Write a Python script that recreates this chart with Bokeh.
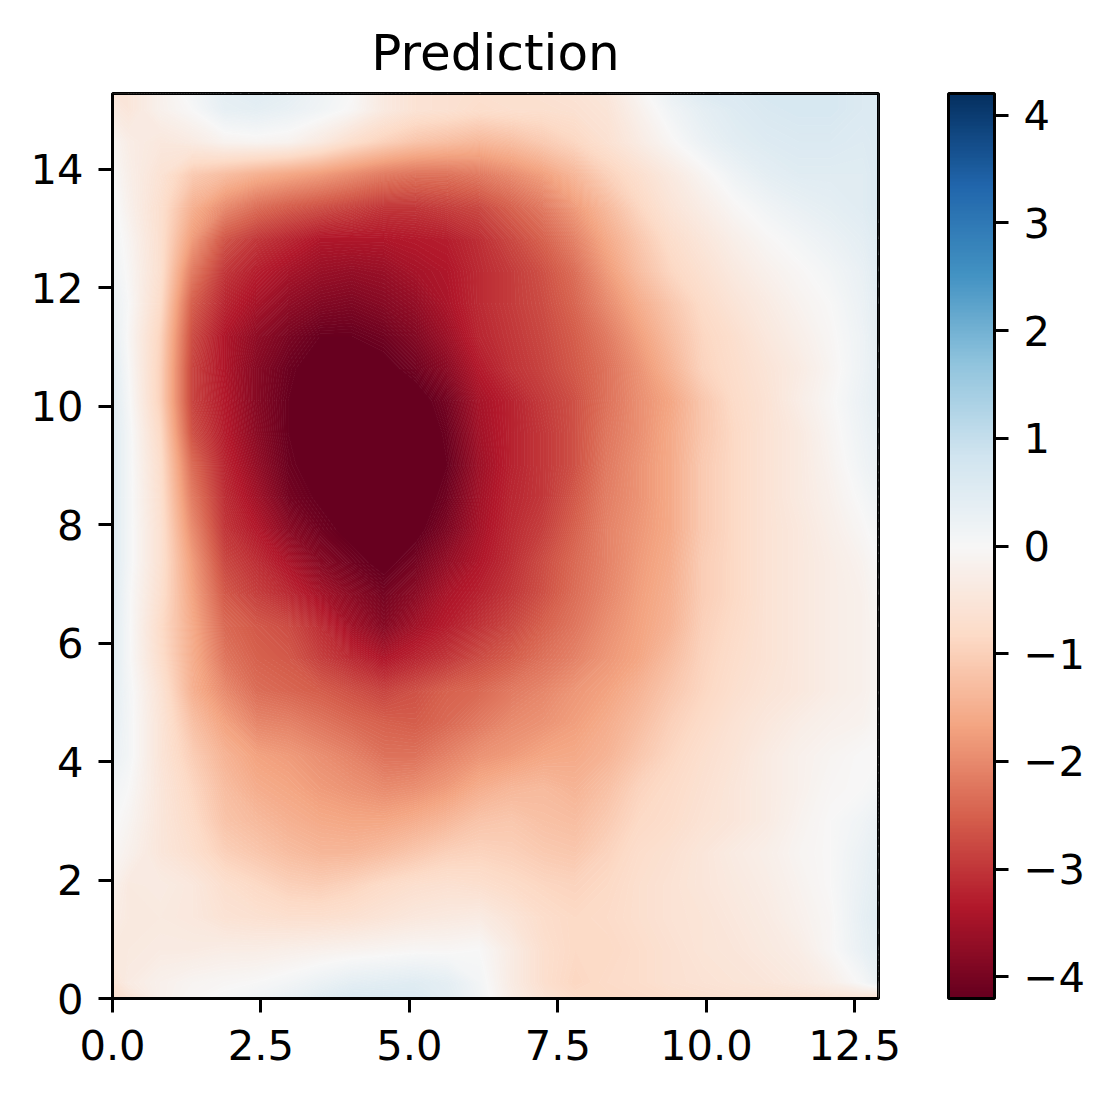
import numpy as np
from bokeh.plotting import figure
from bokeh.models import LinearColorMapper, ColorBar, FixedTicker, NumeralTickFormatter, Range1d, Span
from bokeh.palettes import interp_palette
from bokeh.embed import file_html
from bokeh.resources import INLINE

X_MAX = 12.9
Y_MAX = 15.28
V_MAX = 4.2
TITLE = "Prediction"
X_TICKS = [0, 2.5, 5, 7.5, 10, 12.5]
Y_TICKS = [0, 2, 4, 6, 8, 10, 12, 14]
CB_TICKS = [-4, -3, -2, -1, 0, 1, 2, 3, 4]
RDBU = ("#67001f", "#b2182b", "#d6604d", "#f4a582", "#fddbc7", "#f7f7f7",
        "#d1e5f0", "#92c5de", "#4393c3", "#2166ac", "#053061")

# values, top row first, left to right
top_edge = [-.5,-.2,.1,.4,.5,.4,.2,0,-.4,-.6,-.65,-.7,-.7,-.65,-.6,-.5,-.1,.3,.55,.6,.7,.7,.7,.6]
rows = [
[-.5,-.2,0,.35,.4,.3,.15,-.05,-.4,-.6,-.65,-.75,-.7,-.7,-.65,-.55,-.2,.15,.4,.55,.65,.7,.7,.6],
[-.3,-.45,-.35,-.15,-.1,-.15,-.4,-.75,-1,-1.2,-1.3,-1.4,-1.3,-1.1,-.9,-.65,-.35,-.05,.25,.45,.55,.6,.6,.55],
[-.25,-.6,-1.1,-1.3,-1.5,-1.65,-1.8,-2,-2.2,-2.3,-2.3,-2.2,-2,-1.75,-1.4,-1,-.7,-.4,-.1,.2,.4,.5,.5,.5],
[-.2,-.7,-1.5,-2,-2.35,-2.55,-2.7,-2.85,-3,-3,-2.9,-2.8,-2.5,-2.2,-1.8,-1.35,-.9,-.55,-.3,-.05,.15,.3,.4,.5],
[-.1,-.7,-1.8,-2.65,-3,-3.2,-3.4,-3.4,-3.4,-3.35,-3.3,-3.1,-2.8,-2.5,-2.1,-1.6,-1.15,-.75,-.5,-.25,-.05,.1,.25,.4],
[-.05,-.7,-2.2,-3,-3.3,-3.5,-3.65,-3.7,-3.65,-3.5,-3.4,-3.15,-2.95,-2.7,-2.35,-1.8,-1.3,-.9,-.65,-.4,-.2,-.05,.1,.3],
[0,-.8,-2.55,-3.2,-3.5,-3.75,-3.9,-3.95,-3.85,-3.7,-3.45,-3.15,-2.95,-2.75,-2.45,-2,-1.55,-1.15,-.8,-.55,-.35,-.15,0,.25],
[-.05,-.95,-2.75,-3.4,-3.75,-4.0,-4.2,-4.2,-4.1,-3.9,-3.6,-3.2,-3,-2.8,-2.55,-2.2,-1.75,-1.3,-.9,-.7,-.45,-.25,-.05,.2],
[0,-1,-2.85,-3.4,-3.85,-4.15,-4.35,-4.35,-4.3,-4.1,-3.8,-3.35,-3.05,-2.85,-2.6,-2.3,-1.9,-1.45,-.95,-.75,-.55,-.35,-.1,.2],
[.05,-1,-2.85,-3.35,-3.85,-4.2,-4.4,-4.45,-4.45,-4.35,-4.05,-3.5,-3.25,-2.95,-2.7,-2.3,-1.95,-1.65,-1.15,-.8,-.6,-.3,-.05,.25],
[.1,-.85,-2.7,-3.3,-3.8,-4.2,-4.4,-4.5,-4.5,-4.45,-4.15,-3.55,-3.25,-3,-2.7,-2.25,-1.95,-1.6,-1.15,-.85,-.6,-.4,-.1,.2],
[.1,-.75,-2.4,-3.2,-3.7,-4.15,-4.35,-4.45,-4.5,-4.45,-4.2,-3.6,-3.25,-3,-2.7,-2.2,-1.9,-1.6,-1.1,-.85,-.6,-.4,-.15,.15],
[.1,-.7,-2.2,-3.1,-3.55,-4.05,-4.25,-4.4,-4.5,-4.4,-4.1,-3.55,-3.2,-3,-2.6,-2.15,-1.9,-1.6,-1.1,-.85,-.6,-.4,-.2,.05],
[.1,-.65,-2,-3,-3.35,-3.8,-4.1,-4.3,-4.4,-4.3,-3.95,-3.5,-3.15,-2.9,-2.5,-2.1,-1.85,-1.6,-1.1,-.85,-.6,-.45,-.25,-.05],
[.1,-.65,-1.8,-2.8,-3.1,-3.45,-3.85,-4.1,-4.3,-4.05,-3.7,-3.4,-3.1,-2.75,-2.4,-2.1,-1.8,-1.55,-1.05,-.85,-.6,-.45,-.3,-.15],
[.05,-.7,-1.7,-2.6,-2.9,-3.15,-3.5,-3.8,-4.05,-3.8,-3.45,-3.25,-3,-2.7,-2.35,-2.05,-1.75,-1.5,-1.05,-.85,-.6,-.45,-.3,-.2],
[.05,-.8,-1.6,-2.4,-2.6,-2.75,-3.1,-3.55,-3.85,-3.55,-3.3,-3.05,-2.8,-2.5,-2.25,-1.95,-1.7,-1.45,-1,-.8,-.6,-.45,-.3,-.2],
[.05,-.75,-1.55,-2.25,-2.5,-2.6,-2.9,-3.15,-3.4,-3.2,-3,-2.75,-2.55,-2.3,-2.1,-1.85,-1.65,-1.3,-.95,-.75,-.6,-.45,-.3,-.2],
[.1,-.6,-1.5,-2,-2.35,-2.45,-2.55,-2.7,-2.85,-2.7,-2.5,-2.4,-2.2,-2.05,-1.85,-1.7,-1.45,-1.15,-.9,-.7,-.55,-.45,-.3,-.2],
[.1,-.55,-1.25,-1.7,-2.05,-2.1,-2.25,-2.4,-2.5,-2.55,-2.4,-2.2,-2,-1.9,-1.75,-1.55,-1.3,-1,-.8,-.6,-.45,-.3,-.2,-.15],
[.1,-.55,-1.05,-1.45,-1.7,-1.8,-1.95,-2.1,-2.3,-2.3,-2.1,-1.9,-1.8,-1.65,-1.6,-1.45,-1.15,-.9,-.7,-.55,-.35,-.2,-.1,0],
[0,-.5,-.9,-1.3,-1.55,-1.65,-1.8,-1.9,-2,-1.95,-1.8,-1.55,-1.4,-1.35,-1.45,-1.25,-.95,-.8,-.65,-.5,-.35,-.2,-.05,0],
[-.1,-.5,-.8,-1.2,-1.35,-1.5,-1.6,-1.65,-1.65,-1.55,-1.4,-1.2,-1.15,-1.25,-1.3,-1.1,-.85,-.75,-.6,-.5,-.35,-.15,0,.15],
[-.2,-.5,-.7,-1,-1.15,-1.3,-1.4,-1.4,-1.3,-1.15,-1,-.95,-1,-1.1,-1.15,-.95,-.75,-.65,-.5,-.35,-.25,-.1,0,.25],
[-.4,-.35,-.45,-.7,-.85,-1,-1.05,-.95,-.8,-.7,-.65,-.7,-.8,-.9,-.95,-.85,-.7,-.6,-.5,-.4,-.3,-.15,0,.3],
[-.4,-.4,-.45,-.6,-.65,-.7,-.7,-.65,-.55,-.45,-.4,-.35,-.55,-.75,-.85,-.8,-.7,-.6,-.55,-.45,-.35,-.2,-.05,.35],
[-.4,-.35,-.35,-.3,-.3,-.25,-.2,-.15,-.1,-.05,-.05,0,-.35,-.7,-.85,-.85,-.75,-.65,-.55,-.5,-.4,-.3,-.05,.3],
[-.35,-.2,-.1,-.05,0,.1,.25,.4,.45,.5,.4,.1,-.35,-.7,-.9,-.8,-.75,-.65,-.6,-.55,-.5,-.4,-.25,.05],
]
bottom_edge = [-.6,-.2,-.05,.05,.15,.3,.5,.65,.65,.6,.45,.15,-.3,-.6,-.8,-.85,-.8,-.75,-.7,-.65,-.65,-.65,-.6,-.6]
left_edge = [-.5,-.4,-.1,0,.1,.15,.2,.3,.4,.5,.55,.55,.55,.55,.55,.55,.55,.5,.5,.45,.4,.3,.15,.05,-.05,-.2,-.3,-.4,-.6,-.7]
right_edge = [.6,.6,.6,.6,.6,.55,.5,.45,.45,.4,.4,.35,.3,.2,.1,0,-.05,-.1,-.1,-.1,-.05,0,.1,.3,.4,.45,.5,.45,.3,-.7]

inner = np.array([top_edge] + rows + [bottom_edge], dtype=float)
field = np.column_stack([left_edge, inner, right_edge])[::-1]
n_rows, n_cols = len(rows), len(rows[0])
x_nodes = np.r_[0, (np.arange(n_cols) + .5) * X_MAX / n_cols, X_MAX]
y_nodes = np.r_[0, (np.arange(n_rows) + .5) * Y_MAX / n_rows, Y_MAX]

mapper = LinearColorMapper(palette=interp_palette(RDBU, 256), low=-V_MAX, high=V_MAX)
levels = np.r_[-6, np.linspace(-V_MAX, V_MAX, 337), 6]
band_colors = interp_palette(RDBU, len(levels) - 1)
line_colors = interp_palette(RDBU, len(levels))

p = figure(width=1098, height=1084, frame_width=766, frame_height=905,
           output_backend="svg", toolbar_location=None,
           x_range=Range1d(0, X_MAX), y_range=Range1d(0, Y_MAX),
           min_border_left=112, min_border_top=93, min_border_bottom=86, min_border_right=10,
           background_fill_color="white", outline_line_color="black", outline_line_width=3)
p.grid.visible = False
p.contour(x_nodes, y_nodes, field, levels, fill_color=band_colors, line_color=line_colors, line_width=1)
p.add_layout(Span(location=X_MAX, dimension="height", line_color="black", line_width=3))
p.add_layout(Span(location=Y_MAX, dimension="width", line_color="black", line_width=3))

p.title.text = TITLE
p.title.align = "center"
p.title.text_font = "DejaVu Sans"
p.title.text_font_size = "50px"
p.title.text_font_style = "normal"
p.title.text_color = "black"
p.title.standoff = 24

for ax in (p.xaxis[0], p.yaxis[0]):
    ax.axis_line_color = "black"
    ax.axis_line_width = 3
    ax.major_tick_line_color = "black"
    ax.major_tick_line_width = 3
    ax.major_tick_out = 14
    ax.major_tick_in = 0
    ax.minor_tick_out = 0
    ax.minor_tick_in = 0
    ax.major_label_text_font = "DejaVu Sans"
    ax.major_label_text_font_size = "41.67px"
    ax.major_label_text_color = "black"
p.xaxis[0].major_label_standoff = 17
p.yaxis[0].major_label_standoff = 15
p.xaxis[0].ticker = FixedTicker(ticks=X_TICKS)
p.xaxis[0].formatter = NumeralTickFormatter(format="0.0")
p.yaxis[0].ticker = FixedTicker(ticks=Y_TICKS)
p.yaxis[0].major_label_orientation = "horizontal"

cb = ColorBar(color_mapper=mapper, ticker=FixedTicker(ticks=CB_TICKS),
              major_label_overrides={t: str(t).replace("-", "\u2212") for t in CB_TICKS},
              width=46, height=905, padding=0, margin=0, location=(70, 0),
              bar_line_color="black", bar_line_width=3,
              major_tick_line_color="black", major_tick_line_width=3,
              major_tick_in=0, major_tick_out=14, minor_tick_line_color=None,
              label_standoff=15,
              major_label_text_font="DejaVu Sans", major_label_text_font_size="41.67px",
              major_label_text_color="black")
p.add_layout(cb, "right")

open("out.html", "w").write(file_html(p, INLINE))
